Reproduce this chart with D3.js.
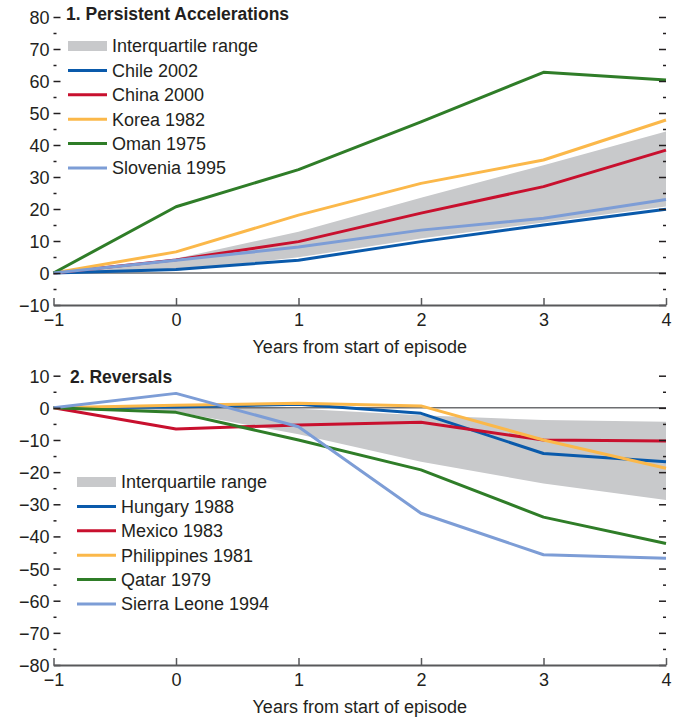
<!DOCTYPE html>
<html>
<head>
<meta charset="utf-8">
<script src="https://cdn.jsdelivr.net/npm/d3@7"></script>
<style>
  body { margin: 0; background: #fff; }
  svg text { font-family: "Liberation Sans", Arial, sans-serif; fill: #231f20; }
</style>
</head>
<body>
<svg id="chart" width="681" height="719"></svg>
<script>
// years relative to start of episode
var years = [-1, 0, 1, 2, 3, 4];

// panel 1: persistent accelerations
var accelNames = ["Chile 2002", "China 2000", "Korea 1982", "Oman 1975", "Slovenia 1995"];
var accelIqrLow = [0, 0.7, 4.9, 10.8, 15.8, 20.8];
var accelIqrHigh = [0, 4.5, 12.9, 23.5, 33.7, 44.2];
var chile = [0, 1.1, 4.0, 9.8, 15.0, 19.9];
var china = [0, 4.1, 9.8, 18.7, 27.0, 38.4];
var korea = [0, 6.6, 18.1, 28.0, 35.3, 47.8];
var oman = [0, 20.7, 32.3, 47.2, 62.7, 60.3];
var slovenia = [0, 4.0, 8.1, 13.4, 17.1, 23.0];
var accelTicks = [-10, 0, 10, 20, 30, 40, 50, 60, 70, 80];

// panel 2: reversals
var revNames = ["Hungary 1988", "Mexico 1983", "Philippines 1981", "Qatar 1979", "Sierra Leone 1994"];
var revIqrLow = [0, -1.2, -8.2, -16.8, -23.5, -28.7];
var revIqrHigh = [0, 0.8, -0.3, -2.3, -3.8, -4.3];
var hungary = [0, 0.3, 1.1, -1.7, -14.2, -16.8];
var mexico = [0, -6.6, -5.3, -4.5, -10.0, -10.3];
var philippines = [0, 0.8, 1.4, 0.6, -10.0, -18.8];
var qatar = [0, -1.4, -10.0, -19.3, -34.0, -42.2];
var sierraLeone = [0, 4.5, -5.9, -32.8, -45.7, -46.8];
var revTicks = [-80, -70, -60, -50, -40, -30, -20, -10, 0, 10];

var colors = ["#0a5aab", "#c8102e", "#fbb84a", "#2f7d28", "#7d9dd6"];
var bandColor = "#c8c9cb";

var svg = d3.select("#chart");
svg.append("rect").attr("width", 681).attr("height", 719).attr("fill", "#fff");

var xScale = d3.scaleLinear().domain([-1, 4]).range([53.5, 666]);

function fmt(d) { return d < 0 ? "\u2212" + Math.abs(d) : d; }

function drawPanel(opts) {
  var yScale = d3.scaleLinear().domain(opts.domain).range([opts.bottom, opts.top]);
  var g = svg.append("g");

  // interquartile band
  var bandData = years.map(function (yr, i) {
    return { x: yr, lo: opts.low[i], hi: opts.high[i] };
  });
  var area = d3.area()
    .x(function (d) { return xScale(d.x); })
    .y0(function (d) { return yScale(d.lo); })
    .y1(function (d) { return yScale(d.hi); });
  g.append("path").datum(bandData).attr("d", area).attr("fill", bandColor);

  // zero line
  g.append("line")
    .attr("x1", xScale(-1)).attr("x2", xScale(4))
    .attr("y1", yScale(0)).attr("y2", yScale(0))
    .attr("stroke", "#6d6e71").attr("stroke-width", 1.5);

  // country lines
  var line = d3.line()
    .x(function (d) { return xScale(d.x); })
    .y(function (d) { return yScale(d.y); });
  opts.series.forEach(function (s, k) {
    var pts = years.map(function (yr, i) { return { x: yr, y: s[i] }; });
    g.append("path").datum(pts)
      .attr("d", line)
      .attr("fill", "none")
      .attr("stroke", colors[k])
      .attr("stroke-width", 3)
      .attr("stroke-linejoin", "round");
  });

  // y ticks, left and right, pointing inward
  var minor = [];
  opts.ticks.forEach(function (t) { if (t + 5 <= opts.domain[1]) minor.push(t + 5); });

  var leftMajor = d3.axisLeft(yScale).tickValues(opts.ticks).tickSize(-7).tickPadding(4).tickFormat(fmt);
  var lg = g.append("g").attr("transform", "translate(" + xScale(-1) + ",0)").call(leftMajor);
  lg.select(".domain").remove();
  lg.selectAll("text").style("font-size", "18px").attr("dy", "0.36em");

  var leftMinor = d3.axisLeft(yScale).tickValues(minor).tickSize(-3).tickFormat("");
  var lm = g.append("g").attr("transform", "translate(" + xScale(-1) + ",0)").call(leftMinor);
  lm.select(".domain").remove();

  var rightMajor = d3.axisRight(yScale).tickValues(opts.ticks).tickSize(-7).tickFormat("");
  var rg = g.append("g").attr("transform", "translate(" + xScale(4) + ",0)").call(rightMajor);
  rg.select(".domain").remove();

  var rightMinor = d3.axisRight(yScale).tickValues(minor).tickSize(-3).tickFormat("");
  var rm = g.append("g").attr("transform", "translate(" + xScale(4) + ",0)").call(rightMinor);
  rm.select(".domain").remove();

  g.selectAll(".tick line").attr("stroke", "#231f20").attr("stroke-width", 1.5);

  // x axis
  var xAxis = d3.axisBottom(xScale).tickValues(years).tickSize(-7).tickSizeOuter(0).tickPadding(8).tickFormat(fmt);
  var xg = g.append("g").attr("transform", "translate(0," + opts.bottom + ")").call(xAxis);
  xg.select(".domain").attr("stroke", "#58595b").attr("stroke-width", 2);
  xg.selectAll(".tick line").attr("stroke", "#58595b").attr("stroke-width", 1.5);
  xg.selectAll("text").style("font-size", "18px");

  g.append("text")
    .attr("x", (xScale(-1) + xScale(4)) / 2)
    .attr("y", opts.bottom + 48)
    .attr("text-anchor", "middle")
    .style("font-size", "18px")
    .text("Years from start of episode");

  // panel title
  g.append("text")
    .attr("x", opts.titleX)
    .attr("y", opts.titleY)
    .style("font-size", "17.5px")
    .style("font-weight", "bold")
    .text(opts.title);

  // legend
  var rowH = 24.4;
  var lx = opts.legendX;
  var ly = opts.legendY;
  g.append("rect")
    .attr("x", lx).attr("y", ly - 5)
    .attr("width", 39).attr("height", 10)
    .attr("fill", bandColor);
  g.append("text")
    .attr("x", lx + 44).attr("y", ly)
    .attr("dy", "0.36em")
    .style("font-size", "18px")
    .text("Interquartile range");
  opts.names.forEach(function (name, k) {
    var yy = ly + rowH * (k + 1);
    g.append("line")
      .attr("x1", lx).attr("x2", lx + 39)
      .attr("y1", yy).attr("y2", yy)
      .attr("stroke", colors[k]).attr("stroke-width", 3);
    g.append("text")
      .attr("x", lx + 44).attr("y", yy)
      .attr("dy", "0.36em")
      .style("font-size", "18px")
      .text(name);
  });
}

drawPanel({
  domain: [-10, 80], top: 17, bottom: 305,
  low: accelIqrLow, high: accelIqrHigh,
  series: [chile, china, korea, oman, slovenia],
  names: accelNames, ticks: accelTicks,
  title: "1. Persistent Accelerations", titleX: 66, titleY: 20,
  legendX: 68, legendY: 46
});

drawPanel({
  domain: [-80, 10], top: 375.7, bottom: 665,
  low: revIqrLow, high: revIqrHigh,
  series: [hungary, mexico, philippines, qatar, sierraLeone],
  names: revNames, ticks: revTicks,
  title: "2. Reversals", titleX: 70, titleY: 383,
  legendX: 77, legendY: 482
});
</script>
</body>
</html>
